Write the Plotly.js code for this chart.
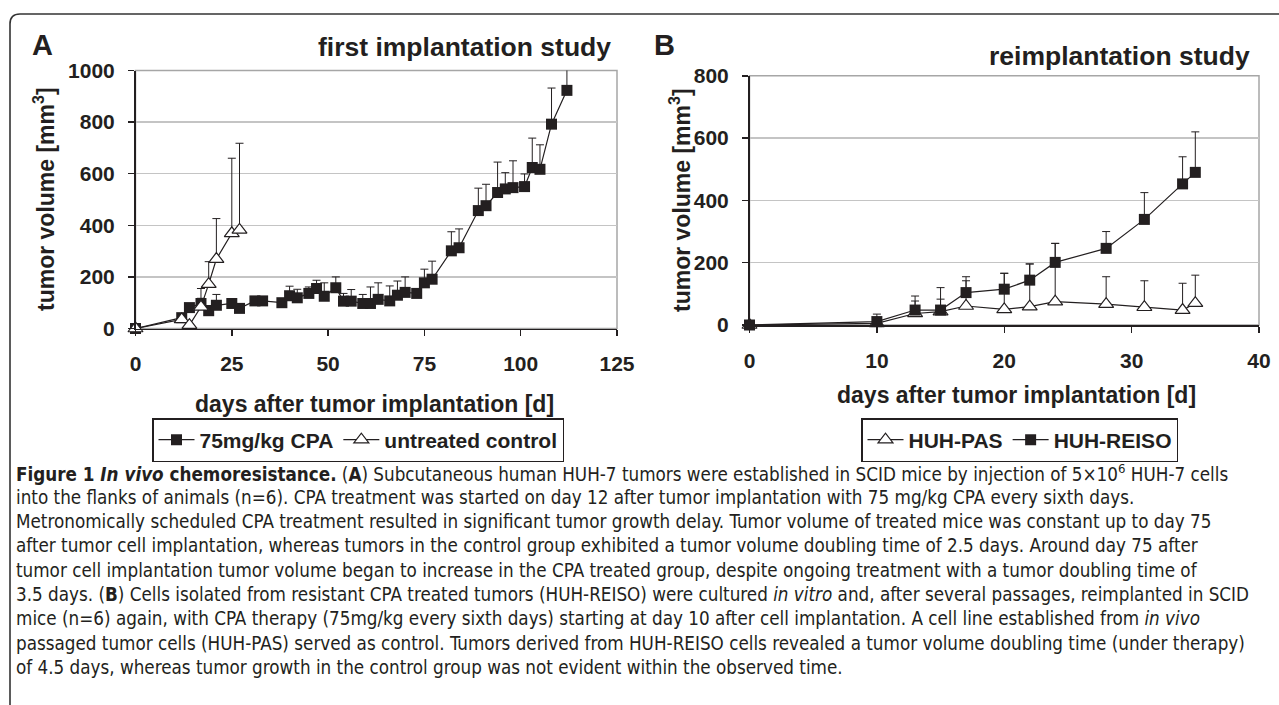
<!DOCTYPE html>
<html><head><meta charset="utf-8">
<script src="https://cdn.plot.ly/plotly-3.0.1.min.js"></script>
<style>html,body{margin:0;padding:0;background:#fff;}#chart{width:1279px;height:705px;}</style>
</head><body><div id="chart"></div>
<script>
// ---- Panel A: first implantation study ----
const cpaDays   = [0, 12, 14, 17, 19, 21, 25, 27, 31, 33, 38, 40, 42, 45, 47, 49, 52, 54, 56, 59, 61, 63, 66, 68, 70, 73, 75, 77, 82, 84, 89, 91, 94, 96, 98, 101, 103, 105, 108, 112];
const cpaVolume = [0, 42, 81, 97, 69, 90, 97, 78, 107, 107, 100, 127, 119, 136, 155, 125, 158, 106, 106, 97, 97, 113, 107, 129, 140, 136, 177, 191, 301, 313, 457, 476, 527, 541, 546, 550, 624, 617, 792, 923];
const cpaError  = [0, 10, 15, 20, 20, 42, 10, 10, 8, 8, 10, 37, 33, 25, 32, 52, 42, 30, 45, 35, 64, 64, 58, 55, 60, 10, 53, 70, 74, 73, 87, 83, 118, 63, 104, 49, 114, 95, 140, 87];
const controlDays   = [0, 12, 14, 17, 19, 21, 25, 27];
const controlVolume = [0, 35, 13, 84, 172, 269, 369, 382];
const controlError  = [0, 10, 5, 71, 87, 157, 291, 336];
const tickDaysA = [0, 25, 50, 75, 100, 125];
const tickVolA  = [0, 200, 400, 600, 800, 1000];

// ---- Panel B: reimplantation study ----
const reDays      = [0, 10, 13, 15, 17, 20, 22, 24, 28, 31, 34, 35];
const pasVolume   = [0, 5, 37, 43, 61, 50, 59, 75, 67, 57, 48, 70];
const pasError    = [0, 15, 40, 40, 81, 116, 137, 187, 88, 85, 86, 90];
const reisoVolume = [0, 11, 48, 48, 104, 115, 144, 201, 246, 339, 453, 490];
const reisoError  = [0, 24, 45, 72, 51, 51, 52, 61, 54, 86, 87, 130];
const tickDaysB = [0, 10, 20, 30, 40];
const tickVolB  = [0, 200, 400, 600, 800];

const seriesNames = ['75mg/kg CPA', 'untreated control', 'HUH-PAS', 'HUH-REISO'];
const panelTitles = ['first implantation study', 'reimplantation study'];
const panelLetters = ['A', 'B'];
const xTitle = 'days after tumor implantation [d]';
const yTitle = 'tumor volume [mm<sup>3</sup>]';

const captionLines = [
  '<b>Figure 1 <i>In vivo</i> chemoresistance.</b> (<b>A</b>) Subcutaneous human HUH-7 tumors were established in SCID mice by injection of 5×10<sup>6</sup> HUH-7 cells',
  'into the flanks of animals (n=6). CPA treatment was started on day 12 after tumor implantation with 75 mg/kg CPA every sixth days.',
  'Metronomically scheduled CPA treatment resulted in significant tumor growth delay. Tumor volume of treated mice was constant up to day 75',
  'after tumor cell implantation, whereas tumors in the control group exhibited a tumor volume doubling time of 2.5 days. Around day 75 after',
  'tumor cell implantation tumor volume began to increase in the CPA treated group, despite ongoing treatment with a tumor doubling time of',
  '3.5 days. (<b>B</b>) Cells isolated from resistant CPA treated tumors (HUH-REISO) were cultured <i>in vitro</i> and, after several passages, reimplanted in SCID',
  'mice (n=6) again, with CPA therapy (75mg/kg every sixth days) starting at day 10 after cell implantation. A cell line established from <i>in vivo</i>',
  'passaged tumor cells (HUH-PAS) served as control. Tumors derived from HUH-REISO cells revealed a tumor volume doubling time (under therapy)',
  'of 4.5 days, whereas tumor growth in the control group was not evident within the observed time.'
];

// ---- helpers (pixel -> paper) ----
const W = 1279, H = 705;
const px = v => v / W;
const py = v => 1 - v / H;
const INK = '#231f20';
const FONT = 'Liberation Sans, Arial, sans-serif';
const zeros = a => a.map(() => 0);

function squareTrace(x, y, err, name, xa, ya, lg) {
  return {x, y, name, type: 'scatter', mode: 'lines+markers', xaxis: xa, yaxis: ya, legend: lg, cliponaxis: false,
    line: {color: INK, width: 1.2},
    marker: {symbol: 'square', size: 11, color: INK, line: {color: INK, width: 0}},
    error_y: {type: 'data', symmetric: false, array: err, arrayminus: zeros(err), color: INK, thickness: 1, width: 4}};
}
function triangleTrace(x, y, err, name, xa, ya, lg) {
  return {x, y, name, type: 'scatter', mode: 'lines+markers', xaxis: xa, yaxis: ya, legend: lg, cliponaxis: false,
    line: {color: INK, width: 1.2},
    marker: {symbol: 'triangle-up', size: 13, color: '#ffffff', line: {color: INK, width: 1.2}},
    error_y: {type: 'data', symmetric: false, array: err, arrayminus: zeros(err), color: INK, thickness: 1, width: 4}};
}

const traces = [
  squareTrace(cpaDays, cpaVolume, cpaError, seriesNames[0], 'x', 'y', 'legend'),
  triangleTrace(controlDays, controlVolume, controlError, seriesNames[1], 'x', 'y', 'legend'),
  triangleTrace(reDays, pasVolume, pasError, seriesNames[2], 'x2', 'y2', 'legend2'),
  squareTrace(reDays, reisoVolume, reisoError, seriesNames[3], 'x2', 'y2', 'legend2')
];

const tickFont = {family: FONT, size: 21, color: INK, weight: 'bold'};
function xAxis(domain, range, ticks, anchor) {
  return {domain, range, tickvals: ticks, ticktext: ticks.map(String), anchor, showgrid: false, zeroline: false,
    showline: true, linecolor: INK, linewidth: 1.5, ticks: 'outside', ticklen: 6, tickwidth: 1.5, tickcolor: INK,
    tickfont: tickFont, ticklabelstandoff: 10, fixedrange: true};
}
function yAxis(domain, range, ticks, anchor) {
  return {domain, range, tickvals: ticks, ticktext: ticks.map(String), anchor, showgrid: true, gridcolor: '#c4c4c4', gridwidth: 1.5,
    zeroline: false, showline: true, linecolor: INK, linewidth: 1.5, ticks: 'outside', ticklen: 6, tickwidth: 1.5, tickcolor: INK,
    tickfont: tickFont, ticklabelstandoff: 9, fixedrange: true};
}

const legendStyle = (x) => ({x: px(x), y: py(418), xanchor: 'left', yanchor: 'top', orientation: 'h',
  bordercolor: INK, borderwidth: 1.5, bgcolor: '#fff', itemwidth: 36,
  font: {family: FONT, size: 21, color: INK, weight: 'bold'}});

const txt = (text, x, y, size, extra) => Object.assign({text, x: px(x), y: py(y), xref: 'paper', yref: 'paper',
  xanchor: 'center', yanchor: 'middle', showarrow: false, font: {family: FONT, size, color: INK}}, extra || {});

const annotations = [
  txt('<b>' + panelLetters[0] + '</b>', 42, 45, 29),
  txt('<b>' + panelLetters[1] + '</b>', 664, 45, 29),
  txt('<b>' + panelTitles[0] + '</b>', 613, 47, 26.5, {xanchor: 'right'}),
  txt('<b>' + panelTitles[1] + '</b>', 1252, 56, 26.5, {xanchor: 'right'}),
  txt('<b>' + yTitle + '</b>', 44, 199, 23, {textangle: -90}),
  txt('<b>' + yTitle + '</b>', 680, 200, 23, {textangle: -90}),
  txt('<b>' + xTitle + '</b>', 374, 404, 23),
  txt('<b>' + xTitle + '</b>', 1016, 395, 23)
];
captionLines.forEach((t, i) => {
  annotations.push({text: t, x: px(14), y: py(473 + i * 24.3), xanchor: 'left', yanchor: 'middle', align: 'left',
    xref: 'paper', yref: 'paper', showarrow: false,
    font: {family: 'Liberation Sans Narrow, DejaVu Sans Condensed, Liberation Sans, sans-serif', size: 18.7, color: INK}});
});

// outer rounded frame (open to right/bottom)
const framePath = `M ${px(10)},${py(705)} L ${px(10)},${py(24)} Q ${px(10)},${py(14)} ${px(20)},${py(14)} L ${px(1279)},${py(14)}`;

const layout = {
  width: W, height: H, margin: {l: 0, r: 0, t: 0, b: 0},
  paper_bgcolor: '#fff', plot_bgcolor: '#fff', showlegend: true,
  xaxis: xAxis([px(135.5), px(617)], [0, 125], tickDaysA, 'y'),
  yaxis: yAxis([py(328.5), py(70.5)], [0, 1000], tickVolA, 'x'),
  xaxis2: xAxis([px(749.5), px(1259)], [0, 40], tickDaysB, 'y2'),
  yaxis2: yAxis([py(325), py(75.8)], [0, 800], tickVolB, 'x2'),
  legend: legendStyle(152),
  legend2: legendStyle(861),
  annotations,
  shapes: [
    {type: 'rect', xref: 'x domain', yref: 'y domain', x0: 0, x1: 1, y0: 0, y1: 1, line: {color: '#a6a6a6', width: 1.5}, layer: 'below'},
    {type: 'rect', xref: 'x2 domain', yref: 'y2 domain', x0: 0, x1: 1, y0: 0, y1: 1, line: {color: '#a6a6a6', width: 1.5}, layer: 'below'},
    {type: 'path', xref: 'paper', yref: 'paper', path: framePath, line: {color: '#333', width: 1.6}}
  ]
};

Plotly.newPlot('chart', traces, layout, {displayModeBar: false, staticPlot: true});
</script></body></html>
